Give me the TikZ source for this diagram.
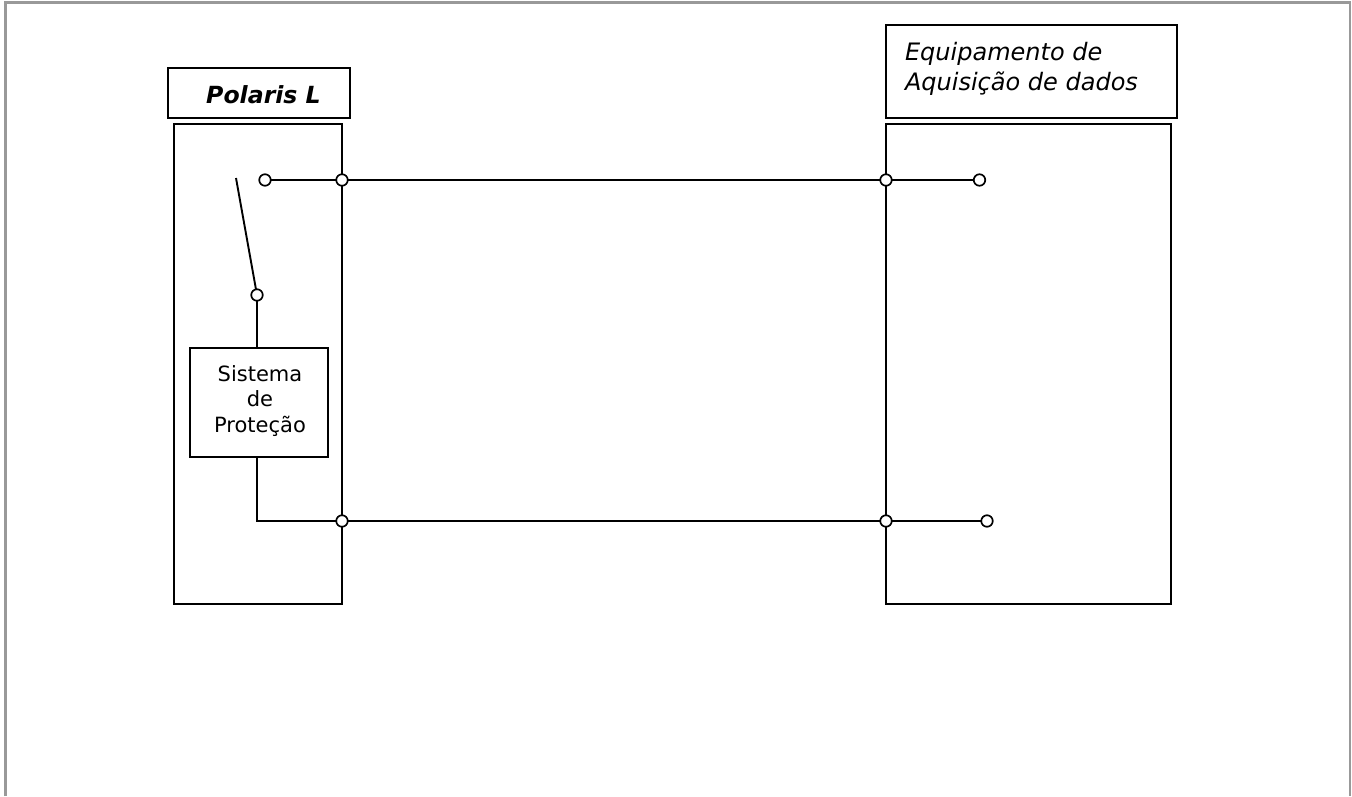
\documentclass[tikz,border=0pt]{standalone}
\usepackage{fontspec}
\setmainfont{DejaVu Sans}
\tikzset{
  wire/.style={draw=black,line width=1.9pt},
  frameline/.style={draw=black!40,line width=2.2pt},
  boxline/.style={draw=black,line width=1.9pt,fill=none,inner sep=0pt,outer sep=0pt,rectangle},
  term/.style={circle,draw=black,line width=1.7pt,fill=white,minimum size=11.5pt,inner sep=0pt,outer sep=0pt},
  lab/.style={font=\fontsize{21}{25.5}\selectfont,inner sep=0pt,outer sep=0pt,align=center}
}
\begin{document}
\begin{tikzpicture}[x=1pt,y=-1pt]
\useasboundingbox (0,0) rectangle (1352,796);
\fill[white] (0,0) rectangle (1352,796);
% page frame
\coordinate (fbl) at (5.5,796);
\coordinate (ftl) at (5.5,2.5);
\coordinate (ftr) at (1350,2.5);
\coordinate (fbr) at (1350,796);
\draw[frameline] (fbl) -- (ftl) -- (ftr) -- (fbr);
% boxes
\node[boxline,minimum width=182pt,minimum height=50pt] (polhead) at (259,93) {};
\node[boxline,minimum width=168pt,minimum height=480pt] (polbody) at (258,364) {};
\node[boxline,minimum width=291pt,minimum height=93pt] (eqhead) at (1031.5,71.5) {};
\node[boxline,minimum width=285pt,minimum height=480pt] (eqbody) at (1028.5,364) {};
\node[boxline,minimum width=138pt,minimum height=109pt] (sis) at (259,402.5) {};
% texts
\node[lab,font=\fontsize{23.6}{28}\selectfont\bfseries\itshape] (poltext) at (263.5,95) {Polaris L};
\node[lab,anchor=base west,align=left,font=\fontsize{24}{30}\selectfont\itshape] (eqtext) at (905,90) {Equipamento de\\Aquisição de dados};
\node[lab] (sistext) at (260,401) {Sistema\\de\\Proteção};
% terminals
\node[term] (t1) at (265,180) {};
\node[term] (t2) at (342,180) {};
\node[term] (t3) at (886,180) {};
\node[term] (t4) at (979.5,180) {};
\node[term] (t5) at (257,295) {};
\node[term] (t6) at (342,521) {};
\node[term] (t7) at (886,521) {};
\node[term] (t8) at (987,521) {};
\coordinate (armtop) at (236,178);
\coordinate (corner) at (257,521);
% wires
\draw[wire] (t1) -- (t2);
\draw[wire] (t2) -- (t3);
\draw[wire] (t3) -- (t4);
\draw[wire] (armtop) -- (t5);
\draw[wire] (t5) -- (t5 |- sis.north);
\draw[wire] (corner |- sis.south) -- (corner) -- (t6);
\draw[wire] (t6) -- (t7);
\draw[wire] (t7) -- (t8);
\end{tikzpicture}
\end{document}
